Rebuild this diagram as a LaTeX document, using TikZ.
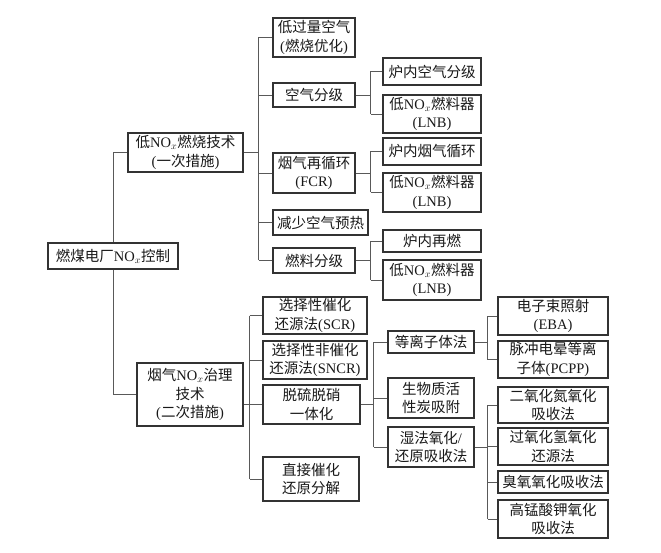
\documentclass[tikz,border=0pt]{standalone}
\usepackage{fontspec}
\setmainfont{Noto Sans CJK SC}
\newfontfamily\latf{Liberation Serif}
\newcommand\LT[1]{{\latf #1}}
\newcommand\NOx{\LT{NO}$_x$}
\usetikzlibrary{calc}
\tikzset{
  box/.style={draw=black!80, line width=1.2pt, fill=white, inner sep=0pt, align=center,
    font=\fontsize{14.5}{18.5}\selectfont, text=black!90},
  conn/.style={draw=black!65, line width=0.7pt},
}
\newcommand\bx[6]{\node[box, minimum width={(#4-#2)*1pt}, minimum height={(#5-#3)*1pt}] (#1) at ({(#2+#4)/2},{(#3+#5)/2}) {#6};}
\begin{document}
\begin{tikzpicture}[x=1pt,y=-1pt]
\useasboundingbox (0,0) rectangle (661,553);
% level 0/1
\bx{root}{48}{243}{178}{269}{燃煤电厂\NOx 控制}
\bx{low}{128}{133}{243}{172}{低\NOx 燃烧技术\\\LT{(}一次措施\LT{)}}
\bx{flue}{137}{363}{243}{426}{烟气\NOx 治理\\技术\\\LT{(}二次措施\LT{)}}
% upper branch
\bx{a1}{273}{18}{355}{57}{低过量空气\\\LT{(}燃烧优化\LT{)}}
\bx{a2}{273}{83}{355}{107}{空气分级}
\bx{a3}{273}{153}{355}{193}{烟气再循环\\\LT{(FCR)}}
\bx{a4}{273}{210}{368}{235}{减少空气预热}
\bx{a5}{273}{248}{355}{273}{燃料分级}
\bx{b1}{383}{58}{481}{85}{炉内空气分级}
\bx{b2}{383}{95}{481}{133}{低\NOx 燃料器\\\LT{(LNB)}}
\bx{b3}{383}{138}{481}{165}{炉内烟气循环}
\bx{b4}{383}{173}{481}{212}{低\NOx 燃料器\\\LT{(LNB)}}
\bx{b5}{383}{230}{481}{252}{炉内再燃}
\bx{b6}{383}{260}{481}{300}{低\NOx 燃料器\\\LT{(LNB)}}
% lower branch
\bx{c1}{263}{297}{367}{334}{选择性催化\\还源法\LT{(SCR)}}
\bx{c2}{263}{341}{367}{379}{选择性非催化\\还源法\LT{(SNCR)}}
\bx{c3}{263}{385}{360}{424}{脱硫脱硝\\一体化}
\bx{c4}{263}{457}{359}{501}{直接催化\\还原分解}
\bx{d1}{388}{331}{474}{353}{等离子体法}
\bx{d2}{388}{378}{474}{418}{生物质活\\性炭吸附}
\bx{d3}{388}{427}{474}{467}{湿法氧化\LT{/}\\还原吸收法}
\bx{e1}{498}{297}{608}{335}{电子束照射\\\LT{(EBA)}}
\bx{e2}{498}{341}{608}{378}{脉冲电晕等离\\子体\LT{(PCPP)}}
\bx{f1}{498}{387}{608}{423}{二氧化氮氧化\\吸收法}
\bx{f2}{498}{428}{608}{465}{过氧化氢氧化\\还源法}
\bx{f3}{498}{471}{608}{493}{臭氧氧化吸收法}
\bx{f4}{498}{500}{608}{538}{高锰酸钾氧化\\吸收法}
% connectors
\draw[conn] (root.north) |- (low.west);
\draw[conn] (root.south) |- (flue.west);
\coordinate (j1) at ($(low.east)+(15pt,0)$);
\draw[conn] (low.east) -- (j1);
\draw[conn] (j1 |- a1.west) -- (j1 |- a5.west);
\foreach \c in {a1,a2,a3,a4,a5} \draw[conn] (j1 |- \c.west) -- (\c.west);
\coordinate (j2) at ($(a2.east)+(15pt,0)$);
\draw[conn] (a2.east) -- (j2);
\draw[conn] (j2 |- b1.west) -- (j2 |- b2.west);
\foreach \c in {b1,b2} \draw[conn] (j2 |- \c.west) -- (\c.west);
\coordinate (j3) at ($(a3.east)+(15pt,0)$);
\draw[conn] (a3.east) -- (j3);
\draw[conn] (j3 |- b3.west) -- (j3 |- b4.west);
\foreach \c in {b3,b4} \draw[conn] (j3 |- \c.west) -- (\c.west);
\coordinate (j4) at ($(a5.east)+(15pt,0)$);
\draw[conn] (a5.east) -- (j4);
\draw[conn] (j4 |- b5.west) -- (j4 |- b6.west);
\foreach \c in {b5,b6} \draw[conn] (j4 |- \c.west) -- (\c.west);
\coordinate (j5) at ($(flue.east)+(6pt,0)$);
\draw[conn] (c3.west) -- (c3.west -| flue.east);
\draw[conn] (j5 |- c1.west) -- (j5 |- c4.west);
\foreach \c in {c1,c2,c4} \draw[conn] (j5 |- \c.west) -- (\c.west);
\coordinate (j6) at ($(c3.east)+(13pt,0)$);
\draw[conn] (c3.east) -- (j6);
\draw[conn] (j6 |- d1.west) -- (j6 |- d3.west);
\foreach \c in {d1,d2,d3} \draw[conn] (j6 |- \c.west) -- (\c.west);
\coordinate (j7) at ($(d1.east)+(13pt,0)$);
\draw[conn] (d1.east) -- (j7);
\draw[conn] (j7 |- e1.west) -- (j7 |- e2.west);
\foreach \c in {e1,e2} \draw[conn] (j7 |- \c.west) -- (\c.west);
\coordinate (j8) at ($(d3.east)+(13pt,0)$);
\draw[conn] (d3.east) -- (j8);
\draw[conn] (j8 |- f1.west) -- (j8 |- f4.west);
\foreach \c in {f1,f2,f3,f4} \draw[conn] (j8 |- \c.west) -- (\c.west);
\end{tikzpicture}
\end{document}
